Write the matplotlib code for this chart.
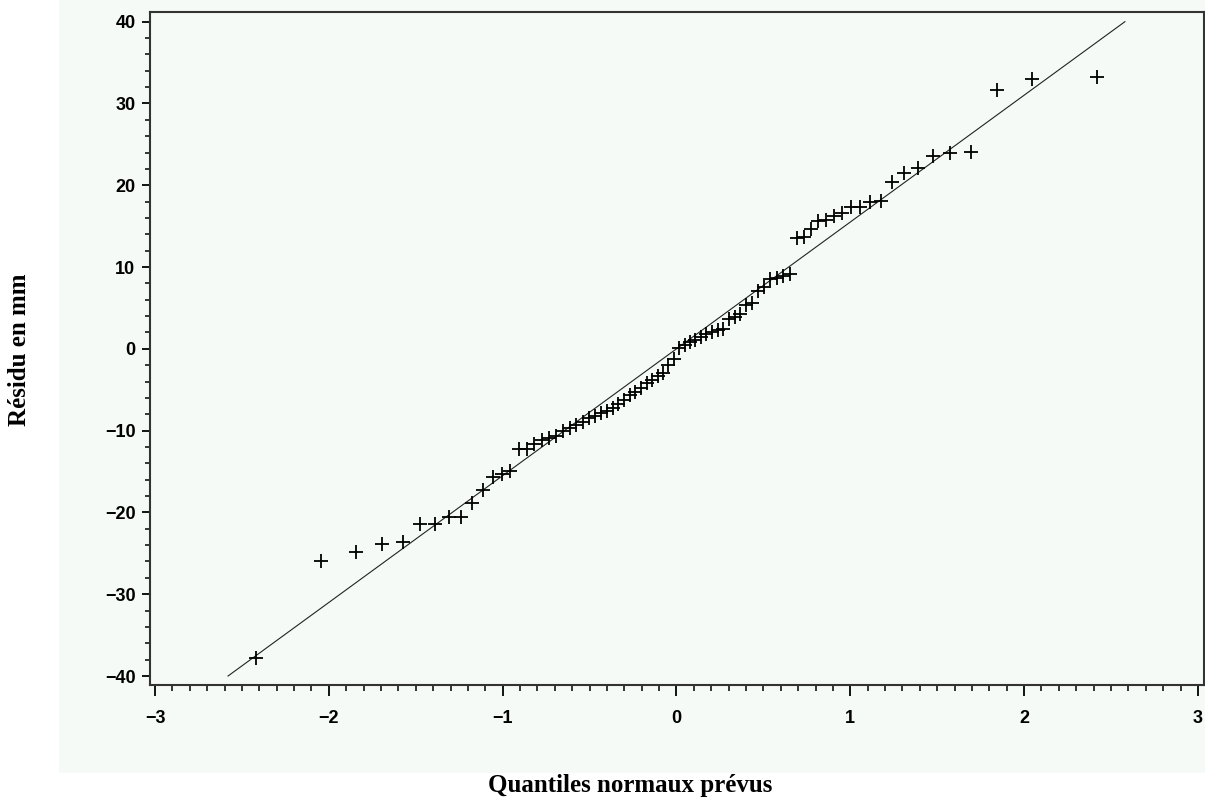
import matplotlib.pyplot as plt
from matplotlib.patches import Rectangle
from matplotlib.ticker import MultipleLocator

# normal quantiles (x) and sorted residuals (y)
quantiles = [-2.418, -2.048, -1.843, -1.693, -1.575, -1.475, -1.388, -1.311, -1.240, -1.175,
             -1.115, -1.058, -1.005, -0.955, -0.907, -0.861, -0.817, -0.774, -0.732, -0.692,
             -0.653, -0.614, -0.577, -0.540, -0.505, -0.470, -0.435, -0.401, -0.367, -0.334,
             -0.301, -0.269, -0.237, -0.205, -0.172, -0.141, -0.109, -0.078, -0.047, -0.016,
             0.016, 0.047, 0.078, 0.109, 0.141, 0.172, 0.205, 0.237, 0.269, 0.301,
             0.334, 0.367, 0.401, 0.435, 0.470, 0.505, 0.540, 0.577, 0.614, 0.653,
             0.692, 0.732, 0.774, 0.817, 0.861, 0.907, 0.955, 1.005, 1.058, 1.115,
             1.175, 1.240, 1.311, 1.388, 1.475, 1.575, 1.693, 1.843, 2.048, 2.418]
residus = [-37.8, -25.9, -24.8, -23.8, -23.6, -21.4, -21.4, -20.6, -20.6, -18.8,
           -17.3, -15.7, -15.3, -14.9, -12.2, -12.2, -11.6, -11.2, -10.9, -10.6,
           -10.1, -9.7, -9.3, -8.9, -8.5, -8.2, -7.9, -7.6, -7.2, -6.7,
           -6.2, -5.7, -5.3, -4.8, -4.2, -3.8, -3.3, -3.0, -2.0, -1.3,
           0.1, 0.5, 0.8, 1.1, 1.5, 1.8, 2.1, 2.3, 2.4, 3.6,
           3.9, 4.2, 5.3, 5.6, 7.1, 7.5, 8.5, 8.7, 8.9, 9.1,
           13.5, 13.7, 14.7, 15.6, 15.8, 16.3, 16.6, 17.3, 17.4, 18.0,
           18.1, 20.4, 21.5, 22.1, 23.6, 23.9, 24.1, 31.6, 33.0, 33.2]

# reference line end points
ref_x = [-2.58, 2.58]
ref_y = [-40, 40]

bg = '#f5faf7'

fig = plt.figure(figsize=(12.05, 8.05), dpi=100)
fig.patches.append(Rectangle((59 / 1205, 1 - 773 / 805), 1 - 59 / 1205, 773 / 805,
                             transform=fig.transFigure, facecolor=bg, edgecolor='none', zorder=-5))

ax = fig.add_axes([150 / 1205, 1 - 685 / 805, 1054 / 1205, 673.3 / 805])
ax.set_facecolor(bg)

ax.plot(ref_x, ref_y, color='#222222', lw=0.8)
ax.plot(quantiles, residus, ls='none', marker='+', ms=10, mew=1.3, color='black')

ax.set_xlim(-3.029, 3.035)
ax.set_ylim(-41.1, 41.22)

ax.xaxis.set_major_locator(MultipleLocator(1))
ax.xaxis.set_minor_locator(MultipleLocator(0.1))
ax.yaxis.set_major_locator(MultipleLocator(10))
ax.yaxis.set_minor_locator(MultipleLocator(2))

for s in ax.spines.values():
    s.set_linewidth(1.5)
    s.set_color('#333333')

tick_font = {'family': 'Liberation Sans', 'weight': 'bold', 'size': 13}
ax.tick_params(axis='x', which='major', direction='out', length=8, width=1.3, pad=10)
ax.tick_params(axis='x', which='minor', direction='out', length=4.5, width=1.1)
ax.tick_params(axis='y', which='major', direction='out', length=5.5, width=1.3, pad=5)
ax.tick_params(axis='y', which='minor', direction='out', length=3.5, width=1.1)
for lab in ax.get_xticklabels() + ax.get_yticklabels():
    lab.set_fontproperties(tick_font)

label_font = {'family': 'Liberation Serif', 'weight': 'bold', 'size': 18}
fig.text(630 / 1205, 1 - 785 / 805, 'Quantiles normaux prévus', ha='center', va='center', **label_font)
fig.text(20 / 1205, 1 - 350 / 805, 'Résidu en mm', ha='center', va='center', rotation=90, **label_font)

fig.savefig('out.png', dpi=100)
